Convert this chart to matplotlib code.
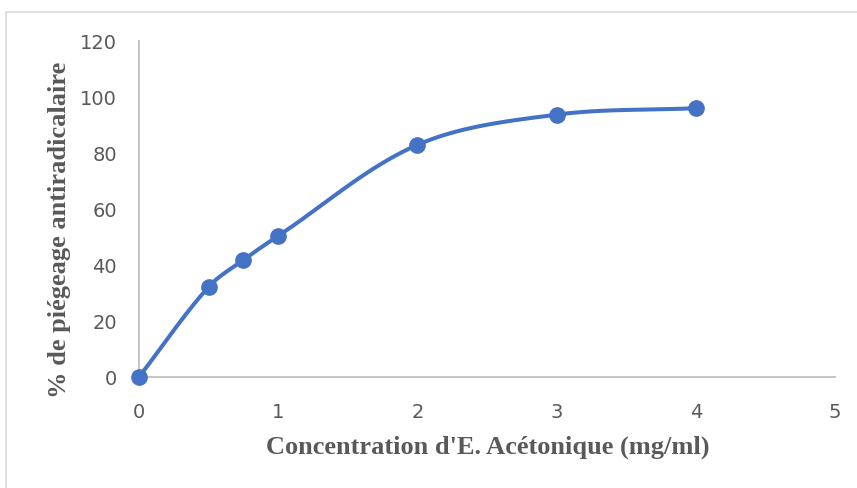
import numpy as np
import matplotlib
matplotlib.use("Agg")
import matplotlib.pyplot as plt
from matplotlib.lines import Line2D
from matplotlib.font_manager import fontManager

# Data: radical scavenging (%) vs acetone extract concentration (mg/ml)
concentration = [0, 0.5, 0.75, 1, 2, 3, 4]
inhibition = [0, 32.2, 41.8, 50.4, 82.9, 93.7, 96.0]
x_ticks = [0, 1, 2, 3, 4, 5]
y_ticks = [0, 20, 40, 60, 80, 100, 120]

names = {f.name for f in fontManager.ttflist}
tick_font = "Liberation Sans Narrow" if "Liberation Sans Narrow" in names else "DejaVu Sans Condensed"
title_font = "Liberation Serif"

BLUE = "#4472C4"
GRAY_TXT = "#595959"
AXIS_GRAY = "#BFBFBF"


def smooth_curve(ax, x, y, n=60):
    """Smoothed line through the points: cubic Bezier segments whose tangents
    follow the neighbouring points, with handle lengths tied to each segment
    length (computed in display space, then mapped back to data)."""
    pts = ax.transData.transform(np.column_stack([x, y]))
    m = len(pts)
    tang = np.zeros_like(pts)
    for i in range(m):
        a = pts[max(i - 1, 0)]
        b = pts[min(i + 1, m - 1)]
        d = b - a
        tang[i] = d / np.hypot(*d)
    t = np.linspace(0, 1, n)[:, None]
    out = []
    for i in range(m - 1):
        p0, p3 = pts[i], pts[i + 1]
        L = np.hypot(*(p3 - p0))
        c1 = p0 + tang[i] * L / 3
        c2 = p3 - tang[i + 1] * L / 3
        b = (1 - t) ** 3 * p0 + 3 * (1 - t) ** 2 * t * c1 + 3 * (1 - t) * t ** 2 * c2 + t ** 3 * p3
        out.append(b)
    disp = np.vstack(out)
    data = ax.transData.inverted().transform(disp)
    return data[:, 0], data[:, 1]


fig = plt.figure(figsize=(8.57, 4.89), dpi=100)
fig.patch.set_facecolor("white")

# chart area border (left and top edges)
bx, by = 5.5 / 857, 1 - 13 / 489
fig.lines.append(Line2D([bx, bx], [-0.01, by], transform=fig.transFigure,
                        color="#D9D9D9", linewidth=1.2))
fig.lines.append(Line2D([bx, 1.01], [by, by], transform=fig.transFigure,
                        color="#D9D9D9", linewidth=1.2))

ax = fig.add_axes([139 / 857, (489 - 378) / 489, 696 / 857, 336 / 489])
ax.set_xlim(0, 5)
ax.set_ylim(0, 120)

sx, sy = smooth_curve(ax, concentration, inhibition)
ax.plot(sx, sy, color=BLUE, linewidth=2.9, solid_capstyle="round", clip_on=False, zorder=3)
ax.plot(concentration, inhibition, "o", color=BLUE, markersize=11, clip_on=False, zorder=4)

for side in ("top", "right"):
    ax.spines[side].set_visible(False)
for side in ("left", "bottom"):
    ax.spines[side].set_color(AXIS_GRAY)
    ax.spines[side].set_linewidth(1.3)
    ax.spines[side].set_zorder(1)

ax.set_xticks(x_ticks)
ax.set_yticks(y_ticks)
ax.tick_params(length=0, labelsize=14, labelcolor=GRAY_TXT)
ax.tick_params(axis="x", pad=18)
ax.tick_params(axis="y", pad=16)
for lab in ax.get_xticklabels() + ax.get_yticklabels():
    lab.set_fontfamily(tick_font)

fig.text(488 / 857, 1 - 447 / 489, "Concentration d'E. Acétonique (mg/ml)",
         ha="center", va="center", fontsize=19, fontweight="bold",
         family=title_font, color=GRAY_TXT)
fig.text(60 / 857, 1 - 230 / 489, "% de piégeage antiradicalaire",
         ha="center", va="center", rotation=90, fontsize=19, fontweight="bold",
         family=title_font, color=GRAY_TXT)

fig.savefig("out.png", dpi=100)
